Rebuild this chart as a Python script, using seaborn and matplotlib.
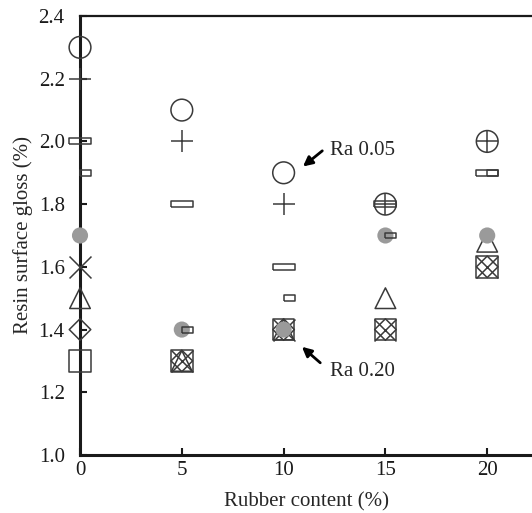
import numpy as np
import pandas as pd
import matplotlib
matplotlib.use("Agg")
import matplotlib.pyplot as plt
import seaborn as sns

rubber = [0, 5, 10, 15, 20]
ra_circle = [2.3, 2.1, 1.9, 1.8, 2.0]
ra_plus = [2.2, 2.0, 1.8, 1.8, 2.0]
ra_wide_rect = [2.0, 1.8, 1.6, 1.8, 1.9]
ra_small_rect = [1.9, 1.4, 1.5, 1.7, 1.9]
ra_grey = [1.7, 1.4, 1.4, 1.7, 1.7]
ra_cross = [1.6, 1.3, 1.4, 1.4, 1.6]
ra_triangle = [1.5, 1.3, 1.4, 1.5, 1.68]
ra_diamond = [1.4, 1.3, 1.4, 1.4, 1.6]
ra_square = [1.3, 1.3, 1.4, 1.4, 1.6]

sns.set_theme(style="white")
plt.rcParams['font.family'] = ['Liberation Serif', 'DejaVu Serif']
plt.rcParams['font.size'] = 15

edge = '#3a3a3a'
wide_rect = [(-1, -0.27), (1, -0.27), (1, 0.27), (-1, 0.27), (-1, -0.27)]
small_rect = [(0, -0.27), (1, -0.27), (1, 0.27), (0, 0.27), (0, -0.27)]

# draw order matters for the overlapped symbols
series = [
    (ra_square, 's', 240, dict(facecolor='none', edgecolor=edge, linewidth=1.1)),
    (ra_triangle, '^', 220, dict(facecolor='none', edgecolor=edge, linewidth=1.1)),
    (ra_diamond, 'D', 120, dict(facecolor='none', edgecolor=edge, linewidth=1.1)),
    (ra_cross, 'x', 250, dict(color=edge, linewidth=1.1)),
    (ra_grey, 'o', 135, dict(color='#9a9a9a', edgecolor='none')),
    (ra_circle, 'o', 245, dict(facecolor='none', edgecolor=edge, linewidth=1.1)),
    (ra_wide_rect, wide_rect, 250, dict(facecolor='none', edgecolor=edge, linewidth=1.1)),
    (ra_small_rect, small_rect, 250, dict(facecolor='none', edgecolor=edge, linewidth=1.1)),
    (ra_plus, '+', 250, dict(color=edge, linewidth=1.1)),
]

fig = plt.figure(figsize=(5.32, 5.13), dpi=100)
ax = fig.add_axes([0.1504, 0.1131, 0.8496, 0.8557])

for vals, marker, size, kws in series:
    df = pd.DataFrame({'rubber': rubber, 'gloss': vals})
    sns.scatterplot(data=df, x='rubber', y='gloss', marker=marker, s=size,
                    ax=ax, clip_on=False, zorder=3, legend=False, **kws)

ax.set_xlim(0, 22.2)
ax.set_ylim(1.0, 2.4)
ax.set_xticks([0, 5, 10, 15, 20])
ax.set_yticks(np.arange(1.0, 2.41, 0.2))
ax.set_yticklabels([f'{v:.1f}' for v in np.arange(1.0, 2.41, 0.2)])
ax.tick_params(direction='in', length=5, width=1.5, colors='#1a1a1a',
               labelsize=15, left=True, bottom=True)
ax.tick_params(axis='y', pad=11)
ax.tick_params(axis='x', pad=4)
ax.set_xlabel('Rubber content (%)', fontsize=15, labelpad=9)
ax.set_ylabel('Resin surface gloss (%)', fontsize=15, labelpad=4)

for side in ['left', 'bottom']:
    ax.spines[side].set_linewidth(2.2)
    ax.spines[side].set_color('#1a1a1a')
ax.spines['top'].set_linewidth(1.6)
ax.spines['top'].set_color('#1a1a1a')
ax.spines['right'].set_visible(False)

arrow = dict(arrowstyle='-|>', color='black', lw=2, mutation_scale=14,
             shrinkA=0, shrinkB=0)
ax.annotate('', xy=(10.95, 1.92), xytext=(11.9, 1.97), arrowprops=arrow)
ax.text(12.3, 1.97, 'Ra 0.05', fontsize=15, va='center', ha='left')
ax.annotate('', xy=(10.9, 1.345), xytext=(11.8, 1.294), arrowprops=arrow)
ax.text(12.3, 1.265, 'Ra 0.20', fontsize=15, va='center', ha='left')

fig.savefig('out.png', dpi=100)
